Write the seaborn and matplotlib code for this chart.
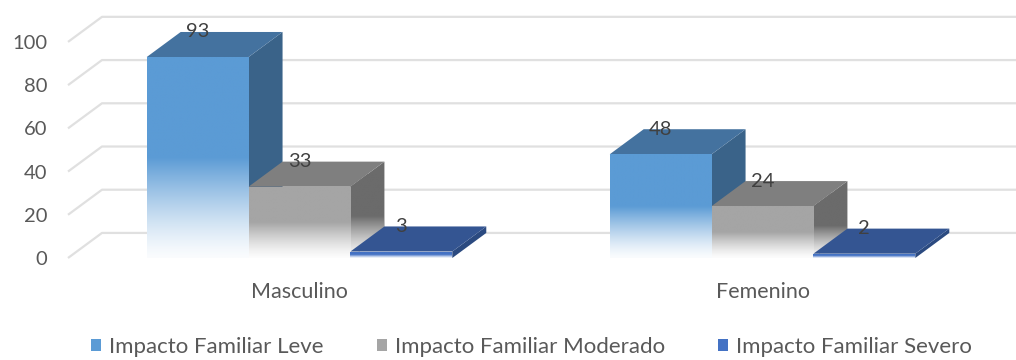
import numpy as np
import pandas as pd
import matplotlib
matplotlib.use("Agg")
import matplotlib.pyplot as plt
from matplotlib.patches import Polygon, Patch
from matplotlib.colors import to_rgb
import seaborn as sns

# ---- data ----
sexos = ["Masculino", "Femenino"]
niveles = ["Impacto Familiar Leve", "Impacto Familiar Moderado", "Impacto Familiar Severo"]
leve = [93, 48]
moderado = [33, 24]
severo = [3, 2]
y_ticks = [0, 20, 40, 60, 80, 100]

# ---- styling ----
front_cols = ["#5b9bd5", "#a5a5a5", "#4472c4"]
top_cols = ["#44729f", "#7f7f7f", "#345592"]
side_cols = ["#3a6389", "#6b6b6b", "#2b4a80"]
fade_side = [False, True, False]
text_col = "#595959"
grid_col = "#e0e0e0"

sns.set_theme(style="white")
plt.rcParams["font.family"] = ["Lato", "DejaVu Sans"]

df = pd.DataFrame({
    "sexo": sexos * 3,
    "nivel": [n for n in niveles for _ in sexos],
    "valor": leve + moderado + severo,
})

W, H = 1016, 360
fig = plt.figure(figsize=(W / 100, H / 100), dpi=100)
ax_left, ax_bottom_px = 68, 258
ax = fig.add_axes([ax_left / W, (H - ax_bottom_px) / H, (W - ax_left) / W, ax_bottom_px / H])

sns.barplot(data=df, x="sexo", y="valor", hue="nivel", hue_order=niveles,
            order=sexos, palette=front_cols, width=0.66, dodge=True,
            saturation=1, legend=False, ax=ax, linewidth=0)

XMIN, XMAX = -0.5, 1.5475
YMIN, YMAX = 0, 119.4
DX, DY = 0.0734, 11.6   # oblique depth offset (category units, value units)


def fade_profile(n=200, bottom_alpha=0.03):
    t = np.linspace(0, 1, n)  # 0 = bottom, 1 = top
    a = np.clip(t / 0.5, 0, 1)
    return bottom_alpha + (1 - bottom_alpha) * a ** 1.3


def gradient_image(color, extent, clip, z):
    c = np.array(to_rgb(color))
    a = fade_profile()
    rgb = (1 - a[:, None]) * 1.0 + a[:, None] * c[None, :]
    im = ax.imshow(rgb[:, None, :], extent=extent, origin="lower", aspect="auto",
                   interpolation="bilinear", zorder=z)
    im.set_clip_path(clip)
    return im


# back-wall gridlines with slanted left returns
for v in y_ticks:
    ax.plot([XMIN, XMIN + DX, XMAX + 1], [v, v + DY, v + DY], color=grid_col,
            lw=1.6, zorder=0.5, clip_on=False, solid_capstyle="butt")

# 3D faces for each bar
bars = list(ax.patches)
n_cat = len(sexos)
for i, p in enumerate(bars):
    k = i // n_cat          # hue index
    x0 = p.get_x()
    w = p.get_width()
    h = p.get_height()
    x1 = x0 + w
    z = 2 + k * 3
    side = Polygon([(x1, 0), (x1 + DX, DY), (x1 + DX, h + DY), (x1, h)],
                   closed=True, facecolor=side_cols[k], edgecolor="none", zorder=z)
    ax.add_patch(side)
    if fade_side[k]:
        gradient_image(side_cols[k], [x1, x1 + DX, 0, h + DY * 0.5], side, z + 0.1)
    top = Polygon([(x0, h), (x1, h), (x1 + DX, h + DY), (x0 + DX, h + DY)],
                  closed=True, facecolor=top_cols[k], edgecolor="none", zorder=z + 0.2)
    ax.add_patch(top)
    p.set_zorder(z + 0.3)
    gradient_image(front_cols[k], [x0, x1, 0, h], p, z + 0.4)
    ax.text(x0 + w / 2, h + DY, f"{h:.0f}", ha="center", va="center",
            fontsize=14.5, color="#404040", zorder=20)

ax.set_xlim(XMIN, XMAX)
ax.set_ylim(YMIN, YMAX)
ax.set_yticks(y_ticks)
ax.set_yticklabels([str(v) for v in y_ticks], fontsize=14.5, color=text_col)
ax.tick_params(axis="y", length=0, pad=15)
ax.tick_params(axis="x", length=0, pad=17, labelsize=15.5, labelcolor=text_col)
ax.set_xlabel("")
ax.set_ylabel("")
for s in ax.spines.values():
    s.set_visible(False)
ax.set_facecolor("none")

handles = [Patch(facecolor=c, edgecolor="none") for c in front_cols]
fig.legend(handles, niveles, loc="center", bbox_to_anchor=(0.523, 1 - 347 / H),
           ncol=3, frameon=False, fontsize=16, labelcolor=text_col,
           handlelength=0.45, handleheight=0.45, handletextpad=0.36,
           columnspacing=2.4)

fig.savefig("out.png", dpi=100, facecolor="white")
